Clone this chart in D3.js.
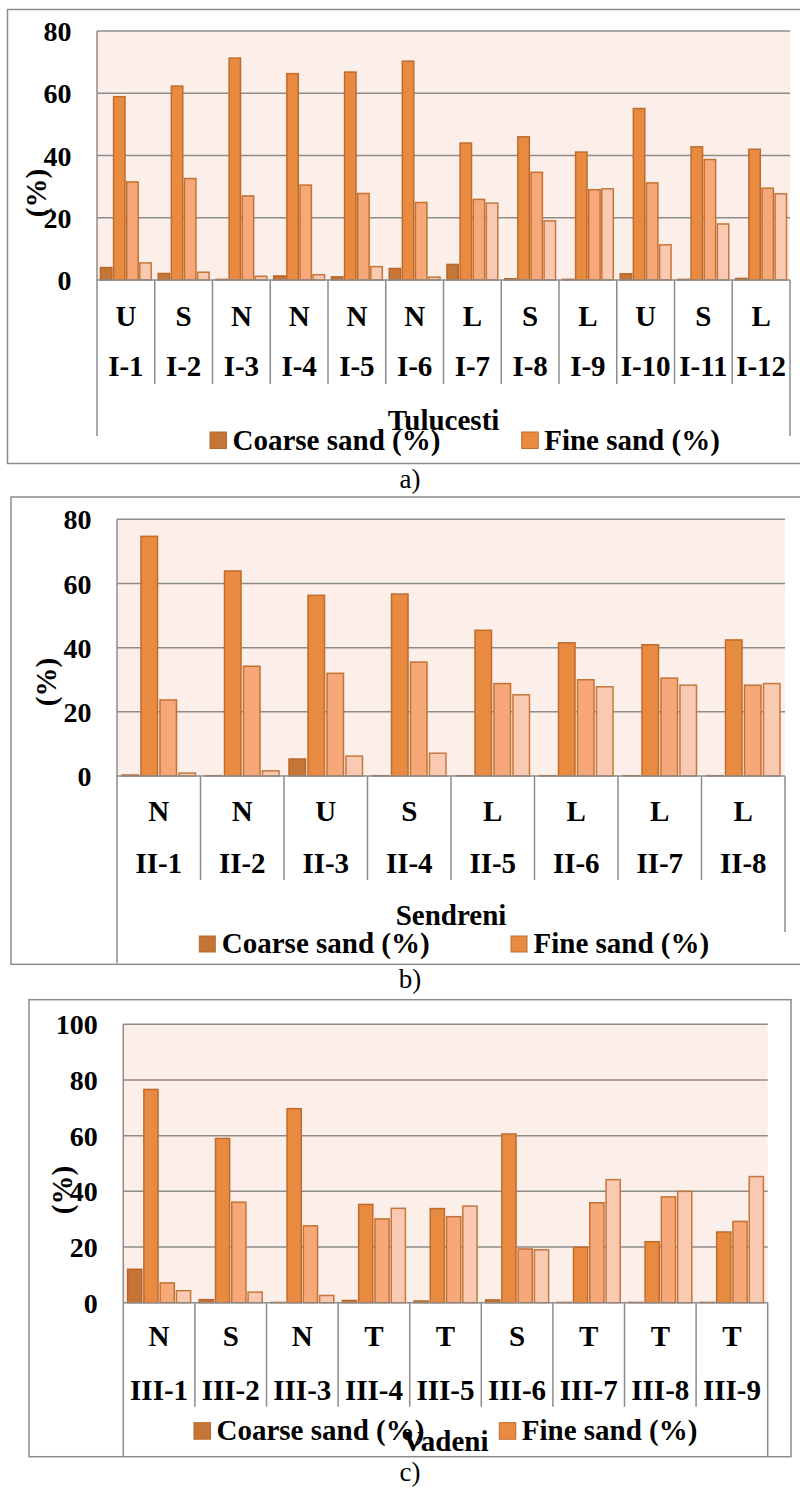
<!DOCTYPE html>
<html><head><meta charset="utf-8">
<script src="https://cdn.jsdelivr.net/npm/d3@7"></script>
<style>
html,body{margin:0;padding:0;background:#fff;}
svg{display:block;}
text{font-family:'Liberation Serif','Times New Roman',Times,serif;fill:#000;}
</style></head>
<body>
<svg id="chart" width="800" height="1488"></svg>
<script>
// ---------- DATA ----------
const legendNames = ["Coarse sand (%)", "Fine sand (%)"];

// a) Tulucesti
const codesA   = ["U","S","N","N","N","N","L","S","L","U","S","L"];
const samplesA = ["I-1","I-2","I-3","I-4","I-5","I-6","I-7","I-8","I-9","I-10","I-11","I-12"];
const coarseA  = [4.0, 2.1, 0.2, 1.3, 1.0, 3.7, 5.0, 0.4, 0.2, 2.0, 0.2, 0.5];
const fineA    = [58.9, 62.3, 71.3, 66.3, 66.8, 70.3, 44.0, 46.0, 41.1, 55.1, 42.8, 42.0];
const series3A = [31.5, 32.6, 27.0, 30.5, 27.8, 24.9, 25.9, 34.6, 29.0, 31.2, 38.7, 29.5];
const series4A = [5.5, 2.5, 1.2, 1.7, 4.3, 0.9, 24.7, 19.0, 29.3, 11.3, 18.0, 27.7];
const ticksA   = [0, 20, 40, 60, 80];

// b) Sendreni
const codesB   = ["N","N","U","S","L","L","L","L"];
const samplesB = ["II-1","II-2","II-3","II-4","II-5","II-6","II-7","II-8"];
const coarseB  = [0.3, 0.1, 5.3, 0.1, 0.1, 0.1, 0.1, 0.1];
const fineB    = [74.7, 63.9, 56.3, 56.7, 45.4, 41.5, 40.9, 42.4];
const series3B = [23.7, 34.2, 32.0, 35.5, 28.8, 30.0, 30.5, 28.3];
const series4B = [0.9, 1.6, 6.2, 7.1, 25.3, 27.8, 28.3, 28.8];
const ticksB   = [0, 20, 40, 60, 80];

// c) Vadeni
const codesC   = ["N","S","N","T","T","S","T","T","T"];
const samplesC = ["III-1","III-2","III-3","III-4","III-5","III-6","III-7","III-8","III-9"];
const coarseC  = [12.0, 1.1, 0.1, 0.8, 0.6, 1.0, 0.1, 0.1, 0.1];
const fineC    = [76.6, 59.0, 69.7, 35.3, 33.8, 60.6, 19.9, 21.9, 25.4];
const series3C = [7.1, 36.1, 27.6, 30.1, 30.9, 19.3, 35.9, 38.0, 29.2];
const series4C = [4.3, 3.8, 2.6, 33.9, 34.7, 19.0, 44.2, 40.0, 45.3];
const ticksC   = [0, 20, 40, 60, 80, 100];

const groupNames = ["Tulucesti", "Sendreni", "Vadeni"];
const panelLetters = ["a)", "b)", "c)"];

// ---------- STYLE / LAYOUT ----------
const fills   = ["#C57535", "#E88B40", "#F6A878", "#F9C9B1"];
const strokes = ["#B8682C", "#BF6C2D", "#C27234", "#C5773C"];
const gridCol = "#8C8C8C";
const plotBg  = "#FCEEE9";

const layouts = [
  {box:[7.5, 9.5, 806, 463.5], plot:[97, 31, 790, 280], sepBottom:384, axL:436, axR:436,
   codeY:326, sampleY:376, groupY:430, legY:450, sw:[210, 432, 16.5], fineSwX:521.7,
   ytitle:[36, 193], letterY:488, tickGap:25.5},
  {box:[11, 497, 806, 964.3], plot:[117, 519.3, 785, 776], sepBottom:880, axL:963, axR:932,
   codeY:821, sampleY:873, groupY:925, legY:953, sw:[199.3, 936, 16], fineSwX:511,
   ytitle:[46, 682], letterY:988, tickGap:25.5},
  {box:[29, 999.7, 791, 1456.7], plot:[123.3, 1024.3, 767.7, 1302.7], sepBottom:1406.7, axL:1456.7, axR:1456.7,
   codeY:1346, sampleY:1400, groupY:1451, legY:1440, sw:[194, 1422.7, 16.5], fineSwX:499.3,
   ytitle:[62, 1190], letterY:1481, tickGap:25.5}
];

const panelData = [
  {codes:codesA, samples:samplesA, series:[coarseA, fineA, series3A, series4A], ticks:ticksA},
  {codes:codesB, samples:samplesB, series:[coarseB, fineB, series3B, series4B], ticks:ticksB},
  {codes:codesC, samples:samplesC, series:[coarseC, fineC, series3C, series4C], ticks:ticksC}
];

const svg = d3.select("#chart");

panelData.forEach((pd, pi) => {
  const L = layouts[pi];
  const g = svg.append("g");
  const [px0, py0, px1, py1] = L.plot;

  // outer box
  g.append("rect")
    .attr("x", L.box[0]).attr("y", L.box[1])
    .attr("width", L.box[2] - L.box[0]).attr("height", L.box[3] - L.box[1])
    .attr("fill", "#fff").attr("stroke", gridCol).attr("stroke-width", 1.5);

  const n = pd.samples.length;
  const idx = d3.range(n);
  const x = d3.scaleBand().domain(idx).range([px0, px1]).padding(0);
  const y = d3.scaleLinear().domain([0, d3.max(pd.ticks)]).range([py1, py0]);
  const cw = x.bandwidth();
  const margin = cw * 0.06;
  const xs = d3.scaleBand().domain(d3.range(4)).range([margin, cw - margin]).paddingInner(0.13);

  // plot background
  g.append("rect").attr("x", px0).attr("y", py0).attr("width", px1 - px0).attr("height", py1 - py0)
    .attr("fill", plotBg);

  // gridlines
  g.append("g").selectAll("line").data(pd.ticks.filter(t => t > 0)).join("line")
    .attr("x1", px0).attr("x2", px1)
    .attr("y1", d => y(d)).attr("y2", d => y(d))
    .attr("stroke", gridCol).attr("stroke-width", 1.5);

  // tick labels via axis
  const yAxis = d3.axisLeft(y).tickValues(pd.ticks).tickSize(0).tickPadding(L.tickGap).tickFormat(d3.format("d"));
  const ya = g.append("g").attr("transform", `translate(${px0},0)`).call(yAxis);
  ya.select(".domain").remove();
  ya.selectAll("text").attr("font-size", 28).attr("font-weight", "bold")
    .attr("font-family", "'Liberation Serif','Times New Roman',serif").attr("fill", "#000")
    .attr("dy", "0.34em");

  // bars
  pd.series.forEach((vals, si) => {
    g.append("g").selectAll("rect").data(vals).join("rect")
      .attr("x", (d, i) => x(i) + xs(si))
      .attr("width", xs.bandwidth())
      .attr("y", d => y(d))
      .attr("height", d => Math.max(0, y(0) - y(d)))
      .attr("fill", fills[si])
      .attr("stroke", strokes[si])
      .attr("stroke-width", 1.5);
  });

  // category axis lines
  g.append("line").attr("x1", px0).attr("x2", px1).attr("y1", py1).attr("y2", py1)
    .attr("stroke", gridCol).attr("stroke-width", 1.5);
  g.append("line").attr("x1", px0).attr("x2", px0).attr("y1", py0).attr("y2", L.axL)
    .attr("stroke", gridCol).attr("stroke-width", 1.5);
  g.append("line").attr("x1", px1).attr("x2", px1).attr("y1", py1).attr("y2", L.axR)
    .attr("stroke", gridCol).attr("stroke-width", 1.5);
  g.append("g").selectAll("line").data(d3.range(1, n)).join("line")
    .attr("x1", d => x(d)).attr("x2", d => x(d))
    .attr("y1", py1).attr("y2", L.sepBottom)
    .attr("stroke", gridCol).attr("stroke-width", 1.5);

  // category labels
  g.append("g").selectAll("text").data(pd.codes).join("text")
    .attr("x", (d, i) => x(i) + cw / 2).attr("y", L.codeY)
    .attr("text-anchor", "middle").attr("font-size", 29).attr("font-weight", "bold")
    .text(d => d);
  g.append("g").selectAll("text").data(pd.samples).join("text")
    .attr("x", (d, i) => x(i) + cw / 2).attr("y", L.sampleY)
    .attr("text-anchor", "middle").attr("font-size", 29).attr("font-weight", "bold")
    .text(d => d);

  // y title
  g.append("text")
    .attr("transform", `translate(${L.ytitle[0]},${L.ytitle[1]}) rotate(-90)`)
    .attr("text-anchor", "middle").attr("dominant-baseline", "central")
    .attr("font-size", 29).attr("font-weight", "bold").text("(%)");

  // legend
  const legX = [L.sw[0], L.fineSwX];
  legendNames.forEach((nm, li) => {
    g.append("rect").attr("x", legX[li]).attr("y", L.sw[1]).attr("width", L.sw[2]).attr("height", L.sw[2])
      .attr("fill", fills[li]).attr("stroke", strokes[li]).attr("stroke-width", 1);
    g.append("text").attr("x", legX[li] + 22.5).attr("y", L.legY)
      .attr("font-size", 29).attr("font-weight", "bold").text(nm);
  });

  // group name
  g.append("text").attr("x", (px0 + px1) / 2).attr("y", L.groupY)
    .attr("text-anchor", "middle").attr("font-size", 29).attr("font-weight", "bold")
    .text(groupNames[pi]);

  // panel letter
  svg.append("text").attr("x", 410).attr("y", L.letterY)
    .attr("text-anchor", "middle").attr("font-size", 27).text(panelLetters[pi]);
});
</script>
</body></html>
